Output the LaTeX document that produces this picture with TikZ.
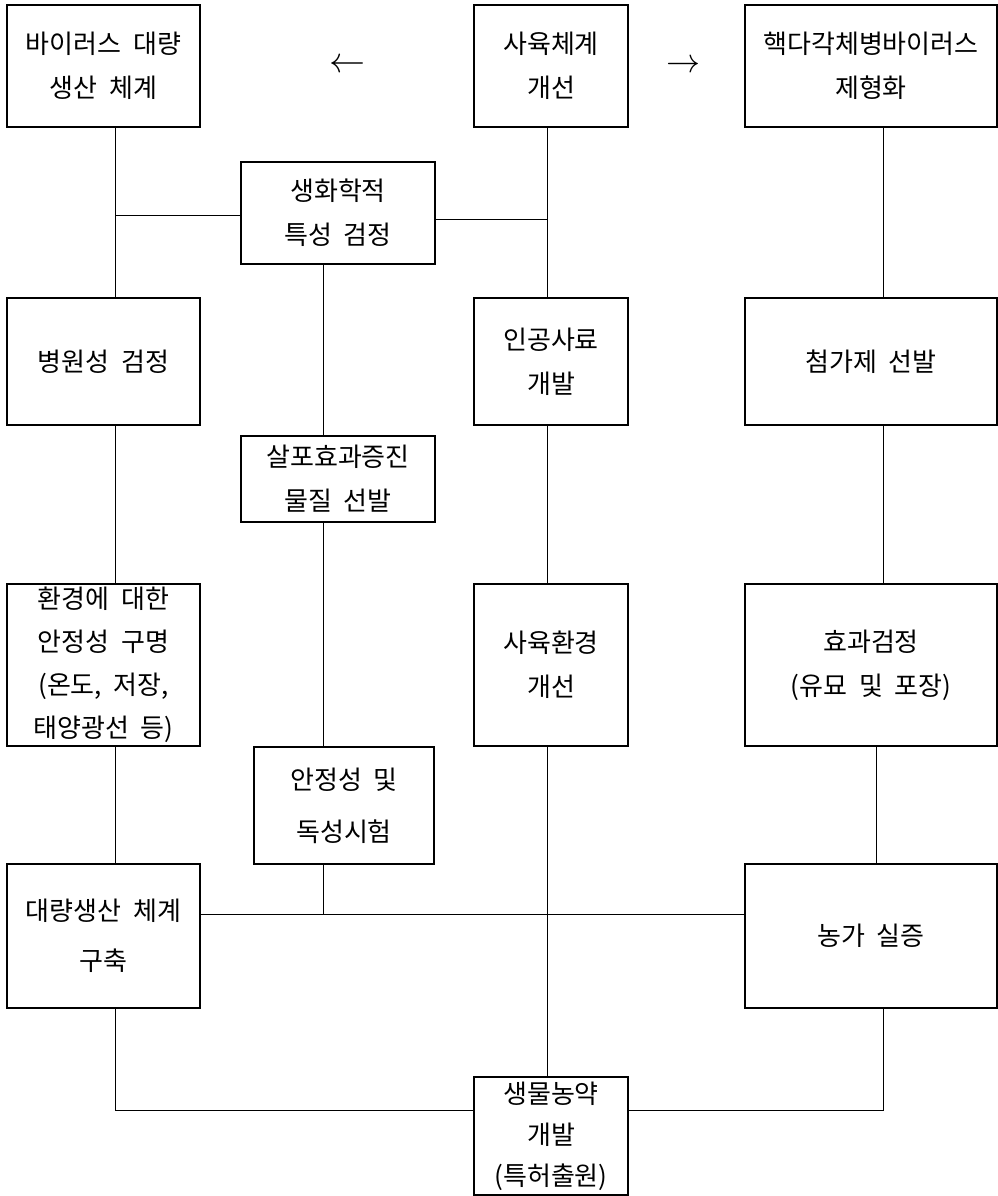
\documentclass[tikz,border=0pt]{standalone}
\usepackage{fontspec}
\setmainfont{Noto Sans CJK KR}[WordSpace=2]
\begin{document}
\begin{tikzpicture}[x=1pt,y=-1pt,
  box/.style={draw, line width=1.1pt, rectangle, inner sep=0pt, align=center,
    font=\fontsize{26}{44}\selectfont},
  link/.style={line width=0.9pt},
  arr/.style={inner sep=0pt}]
\fill[white] (0,0) rectangle (998,1196);
\useasboundingbox (0,0) rectangle (998,1196);
% top row
\node[box, minimum width=193pt, minimum height=122pt] (A) at (103.5,66) {바이러스 대량\\생산 체계};
\node[box, minimum width=154pt, minimum height=122pt] (B) at (551,66) {사육체계\\개선};
\node[box, minimum width=252pt, minimum height=122pt] (C) at (871,66) {핵다각체병바이러스\\제형화};
\node[arr] (la) at (347,66) {\resizebox{36pt}{!}{$\leftarrow$}};
\node[arr] (ra) at (683.5,66) {\resizebox{34pt}{!}{$\rightarrow$}};
% middle column boxes
\node[box, minimum width=194pt, minimum height=102pt] (D) at (338,213) {생화학적\\특성 검정};
\node[box, minimum width=194pt, minimum height=86pt] (H) at (338,479) {살포효과증진\\물질 선발};
\node[box, minimum width=180pt, minimum height=117pt, font=\fontsize{26}{52}\selectfont] (L) at (344,805.5) {안정성 및\\독성시험};
% second row
\node[box, minimum width=193pt, minimum height=127pt] (E) at (103.5,361.5) {병원성 검정};
\node[box, minimum width=154pt, minimum height=127pt] (F) at (551,361.5) {인공사료\\개발};
\node[box, minimum width=252pt, minimum height=127pt] (G) at (871,361.5) {첨가제 선발};
% third row
\node[box, minimum width=193pt, minimum height=162pt, font=\fontsize{26}{43}\selectfont] (I) at (103.5,665) {환경에 대한\\안정성 구명\\(온도, 저장,\\태양광선 등)};
\node[box, minimum width=154pt, minimum height=162pt] (J) at (551,665) {사육환경\\개선};
\node[box, minimum width=252pt, minimum height=162pt] (K) at (871,665) {효과검정\\(유묘 및 포장)};
% fourth row
\node[box, minimum width=193pt, minimum height=144pt, font=\fontsize{26}{50}\selectfont] (M) at (103.5,936) {대량생산 체계\\구축};
\node[box, minimum width=252pt, minimum height=144pt] (N) at (871,936) {농가 실증};
% bottom
\node[box, minimum width=154pt, minimum height=118pt, font=\fontsize{26}{41}\selectfont] (O) at (551,1136) {생물농약\\개발\\(특허출원)};
% guide coordinates
\coordinate (xL) at (115,0);
\coordinate (xM) at (547,0);
\coordinate (xR) at (883,0);
\coordinate (xD) at (323,0);
\coordinate (xK) at (876,0);
\coordinate (yDL) at (0,215);
\coordinate (yDR) at (0,219);
\coordinate (yH) at (0,914);
\coordinate (yB) at (0,1110);
% connectors
\draw[link] (A.south -| xL) -- (E.north -| xL);
\draw[link] (D.west |- yDL) -- (xL |- yDL);
\draw[link] (D.east |- yDR) -- (xM |- yDR);
\draw[link] (B.south -| xM) -- (F.north -| xM);
\draw[link] (C.south -| xR) -- (G.north -| xR);
\draw[link] (D.south -| xD) -- (H.north -| xD);
\draw[link] (E.south -| xL) -- (I.north -| xL);
\draw[link] (F.south -| xM) -- (J.north -| xM);
\draw[link] (G.south -| xR) -- (K.north -| xR);
\draw[link] (H.south -| xD) -- (L.north -| xD);
\draw[link] (I.south -| xL) -- (M.north -| xL);
\draw[link] (J.south -| xM) -- (O.north -| xM);
\draw[link] (K.south -| xK) -- (N.north -| xK);
\draw[link] (M.east |- yH) -- (N.west |- yH);
\draw[link] (L.south -| xD) -- (xD |- yH);
\draw[link] (M.south -| xL) |- (O.west |- yB);
\draw[link] (N.south -| xR) |- (O.east |- yB);
\end{tikzpicture}
\end{document}
